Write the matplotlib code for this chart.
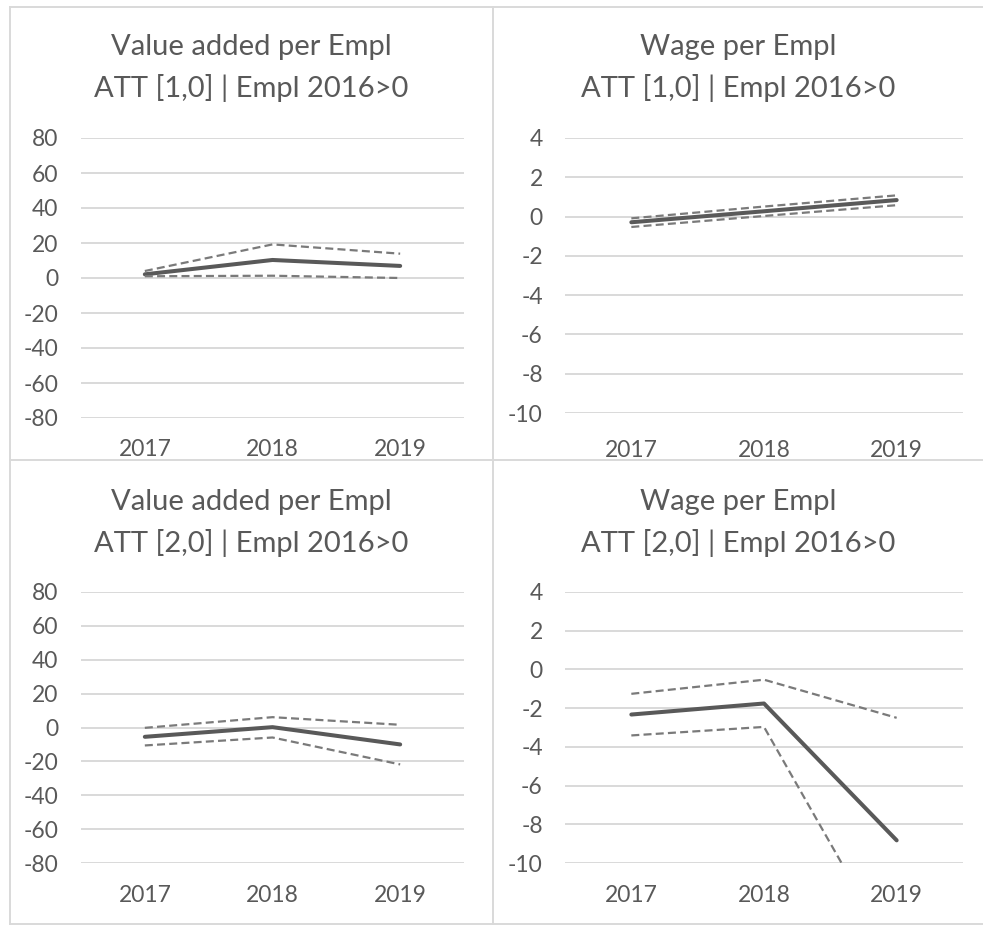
import matplotlib
matplotlib.use("Agg")
import matplotlib.pyplot as plt
from matplotlib.lines import Line2D

# ---------------- data ----------------
years = ["2017", "2018", "2019"]

va10_mean = [2.1, 10.3, 6.9]
va10_upper = [4.0, 19.2, 13.9]
va10_lower = [1.0, 1.3, 0.0]

wage10_mean = [-0.29, 0.27, 0.84]
wage10_upper = [-0.09, 0.51, 1.08]
wage10_lower = [-0.53, 0.03, 0.58]

va20_mean = [-5.5, 0.2, -10.0]
va20_upper = [-0.2, 6.1, 1.6]
va20_lower = [-10.6, -5.9, -21.8]

wage20_mean = [-2.33, -1.76, -8.83]
wage20_upper = [-1.26, -0.53, -2.5]
wage20_lower = [-3.41, -2.97, -15.0]

va_ticks = [80, 60, 40, 20, 0, -20, -40, -60, -80]
wage_ticks = [4, 2, 0, -2, -4, -6, -8, -10]

titles = [
    ("Value added per Empl", "ATT [1,0] | Empl 2016>0"),
    ("Wage per Empl", "ATT [1,0] | Empl 2016>0"),
    ("Value added per Empl", "ATT [2,0] | Empl 2016>0"),
    ("Wage per Empl", "ATT [2,0] | Empl 2016>0"),
]

# ---------------- style ----------------
W, H, DPI = 983, 925, 100
TEXT = "#595959"
GRID = "#d9d9d9"
MEAN_C = "#595959"
CI_C = "#7a7a7a"
FONT = "Lato"
plt.rcParams["font.family"] = [FONT, "DejaVu Sans"]

fig = plt.figure(figsize=(W / DPI, H / DPI), dpi=DPI)
fig.patch.set_facecolor("white")


def fx(px):
    return px / W


def fy(py):
    return 1 - py / H


def add_axes_px(x0, y0, x1, y1):
    return fig.add_axes([fx(x0), fy(y1), fx(x1 - x0), (y1 - y0) / H])


# frames
frame_lines = [
    ((10, 983), (7, 7)),
    ((10, 983), (460, 460)),
    ((10, 983), (924, 924)),
    ((10, 10), (7, 924)),
    ((493, 493), (7, 924)),
]
for xs, ys in frame_lines:
    fig.add_artist(Line2D([fx(xs[0]), fx(xs[1])], [fy(ys[0]), fy(ys[1])],
                          transform=fig.transFigure, color=GRID, lw=1.4))

panels = [
    dict(box=(81, 138, 464, 418), ylim=(-80, 80), ticks=va_ticks,
         data=(va10_mean, va10_upper, va10_lower), cx=251.5, ty=(55, 97), xpad=15, ypad=16.5),
    dict(box=(565, 138, 963, 413), ylim=(-10, 4), ticks=wage_ticks,
         data=(wage10_mean, wage10_upper, wage10_lower), cx=738, ty=(55, 97), xpad=19.5, ypad=16),
    dict(box=(81, 592, 464, 863), ylim=(-80, 80), ticks=va_ticks,
         data=(va20_mean, va20_upper, va20_lower), cx=251.5, ty=(510, 552), xpad=15.5, ypad=16.5),
    dict(box=(565, 592, 963, 863), ylim=(-10, 4), ticks=wage_ticks,
         data=(wage20_mean, wage20_upper, wage20_lower), cx=738, ty=(510, 552), xpad=15.5, ypad=16),
]

for p, (t1, t2) in zip(panels, titles):
    ax = add_axes_px(*p["box"])
    ax.set_facecolor("none")
    x = list(range(len(years)))
    mean, upper, lower = p["data"]
    ax.plot(x, mean, color=MEAN_C, lw=2.9, solid_capstyle="round", zorder=3)
    ax.plot(x, upper, color=CI_C, lw=1.6, linestyle=(0, (3.6, 1.9)), zorder=4)
    ax.plot(x, lower, color=CI_C, lw=1.6, linestyle=(0, (3.6, 1.9)), zorder=4)
    ax.set_xlim(-0.5, 2.5)
    ax.set_ylim(*p["ylim"])
    ax.set_yticks(p["ticks"])
    ax.set_yticklabels([str(t) for t in p["ticks"]])
    ax.set_xticks(x)
    ax.set_xticklabels(years)
    for s in ax.spines.values():
        s.set_visible(False)
    ax.yaxis.grid(True, color=GRID, lw=1.4)
    ax.set_axisbelow(True)
    ax.tick_params(axis="y", length=0, pad=p["ypad"], labelsize=16.5, labelcolor=TEXT)
    ax.tick_params(axis="x", length=0, pad=p["xpad"], labelsize=16.5, labelcolor=TEXT)
    fig.text(fx(p["cx"]), fy(p["ty"][0]), t1, ha="center", va="baseline",
             fontsize=21, color=TEXT)
    fig.text(fx(p["cx"]), fy(p["ty"][1]), t2, ha="center", va="baseline",
             fontsize=21, color=TEXT)

fig.savefig("out.png", dpi=DPI)
